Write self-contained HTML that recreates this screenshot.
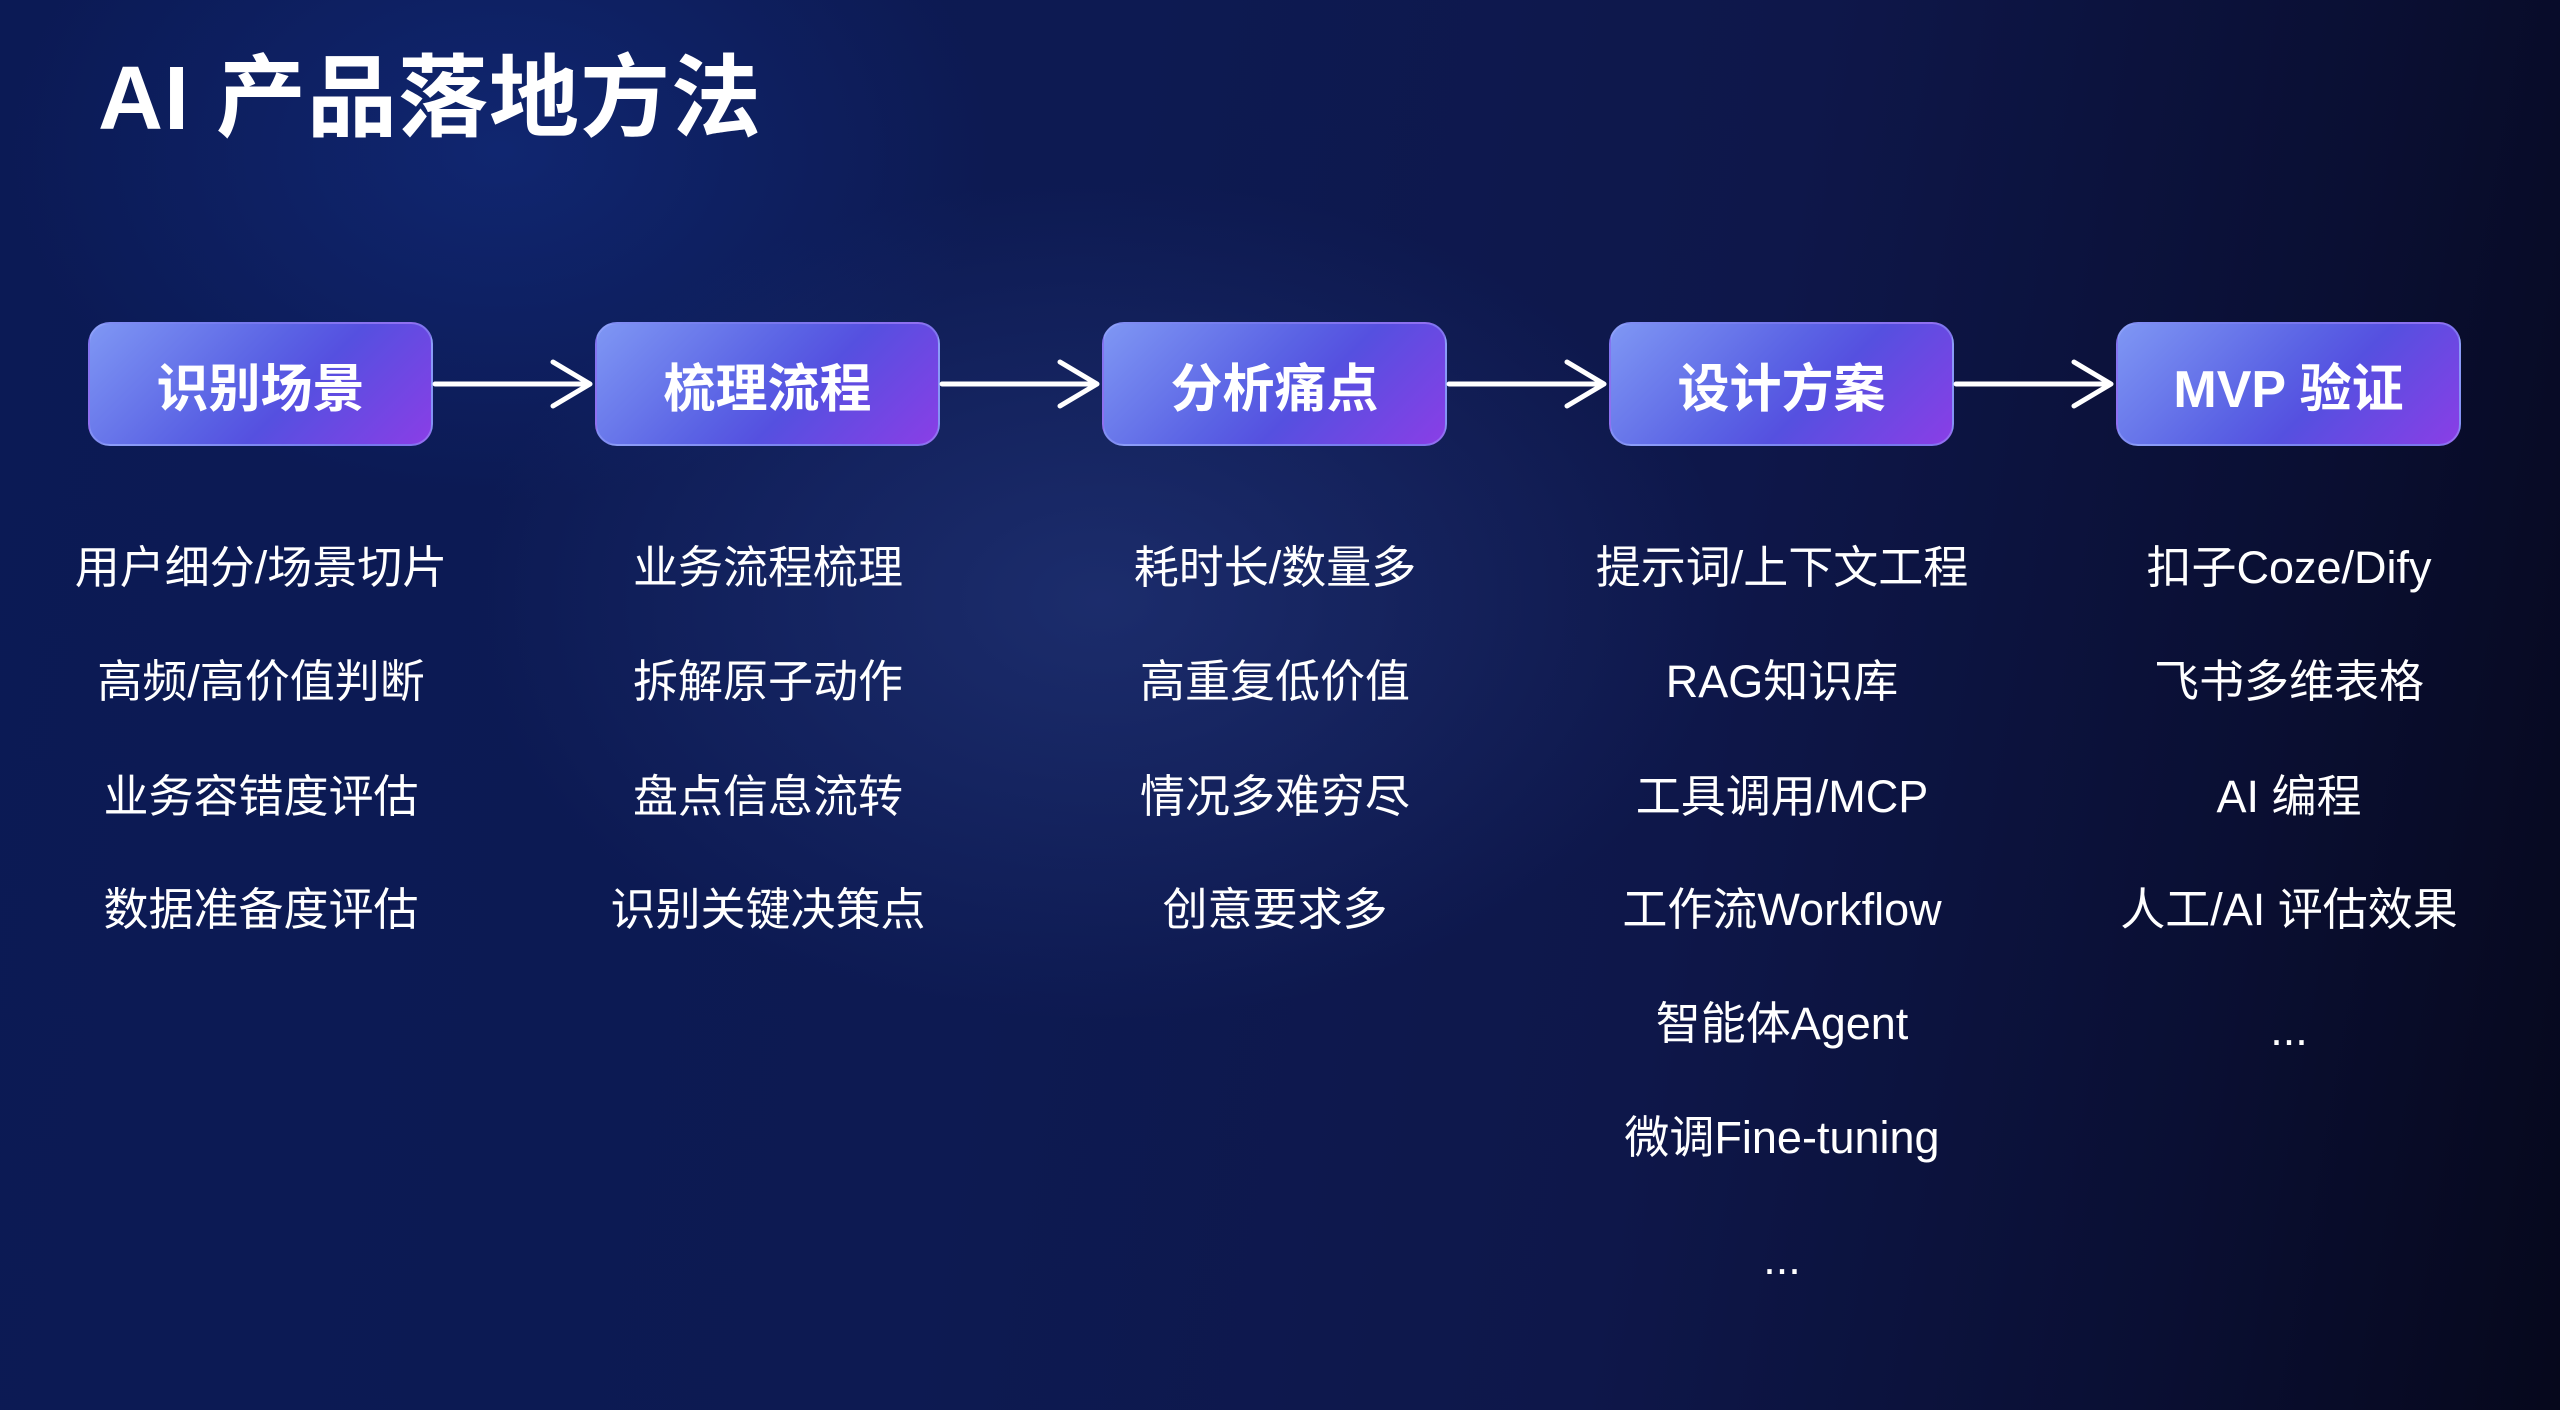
<!DOCTYPE html>
<html><head><meta charset="utf-8"><style>
html,body{margin:0;padding:0}
body{width:2560px;height:1410px;overflow:hidden;position:relative;
font-family:"Liberation Sans","Noto Sans CJK SC",sans-serif;color:#fff;
background:
radial-gradient(ellipse 900px 600px at 1100px 600px, rgba(40,60,130,0.55), rgba(0,0,0,0) 70%),
radial-gradient(ellipse 700px 500px at 500px 150px, rgba(20,50,140,0.5), rgba(0,0,0,0) 70%),
linear-gradient(100deg,#0b1a55 0%,#0d1a52 40%,#0e174a 65%,#0a0f33 85%,#06081c 100%);}
.title{position:absolute;left:98px;top:44px;font-size:90px;font-weight:bold;line-height:110px;letter-spacing:1px}
.box{position:absolute;top:322px;width:345px;height:124px;border-radius:22px;
background:linear-gradient(135deg,#7f97f4 0%,#5a62e4 45%,#5550e0 60%,#8a3ee6 100%);
border:2px solid rgba(160,170,255,0.45);box-sizing:border-box;
display:flex;align-items:center;justify-content:center;font-size:52px;font-weight:bold}
.col{position:absolute;top:0;width:460px;text-align:center;font-size:45px}
.col div{position:absolute;left:0;width:460px;line-height:60px}
svg{position:absolute;left:0;top:0}
</style></head><body>
<div class="title">AI 产品落地方法</div>
<div class="box" style="left:88px">识别场景</div>
<div class="box" style="left:595px">梳理流程</div>
<div class="box" style="left:1102px">分析痛点</div>
<div class="box" style="left:1609px">设计方案</div>
<div class="box" style="left:2116px">MVP 验证</div>
<svg width="2560" height="1410">
<g stroke="#fff" stroke-width="5" fill="none" stroke-linecap="round" stroke-linejoin="round">
<path d="M435 384H590M553 362L590 384L553 406"/>
<path d="M942 384H1097M1060 362L1097 384L1060 406"/>
<path d="M1449 384H1604M1567 362L1604 384L1567 406"/>
<path d="M1956 384H2111M2074 362L2111 384L2074 406"/>
</g></svg>
<div class="col" style="left:31px">
<div style="top:538px">用户细分/场景切片</div>
<div style="top:652px">高频/高价值判断</div>
<div style="top:767px">业务容错度评估</div>
<div style="top:880px">数据准备度评估</div>
</div>
<div class="col" style="left:538px">
<div style="top:538px">业务流程梳理</div>
<div style="top:652px">拆解原子动作</div>
<div style="top:767px">盘点信息流转</div>
<div style="top:880px">识别关键决策点</div>
</div>
<div class="col" style="left:1045px">
<div style="top:538px">耗时长/数量多</div>
<div style="top:652px">高重复低价值</div>
<div style="top:767px">情况多难穷尽</div>
<div style="top:880px">创意要求多</div>
</div>
<div class="col" style="left:1552px">
<div style="top:538px">提示词/上下文工程</div>
<div style="top:652px">RAG知识库</div>
<div style="top:767px">工具调用/MCP</div>
<div style="top:880px">工作流Workflow</div>
<div style="top:994px">智能体Agent</div>
<div style="top:1108px">微调Fine-tuning</div>
<div style="top:1229px">...</div>
</div>
<div class="col" style="left:2059px">
<div style="top:538px">扣子Coze/Dify</div>
<div style="top:652px">飞书多维表格</div>
<div style="top:767px">AI 编程</div>
<div style="top:880px">人工/AI 评估效果</div>
<div style="top:1000px">...</div>
</div>
</body></html>
